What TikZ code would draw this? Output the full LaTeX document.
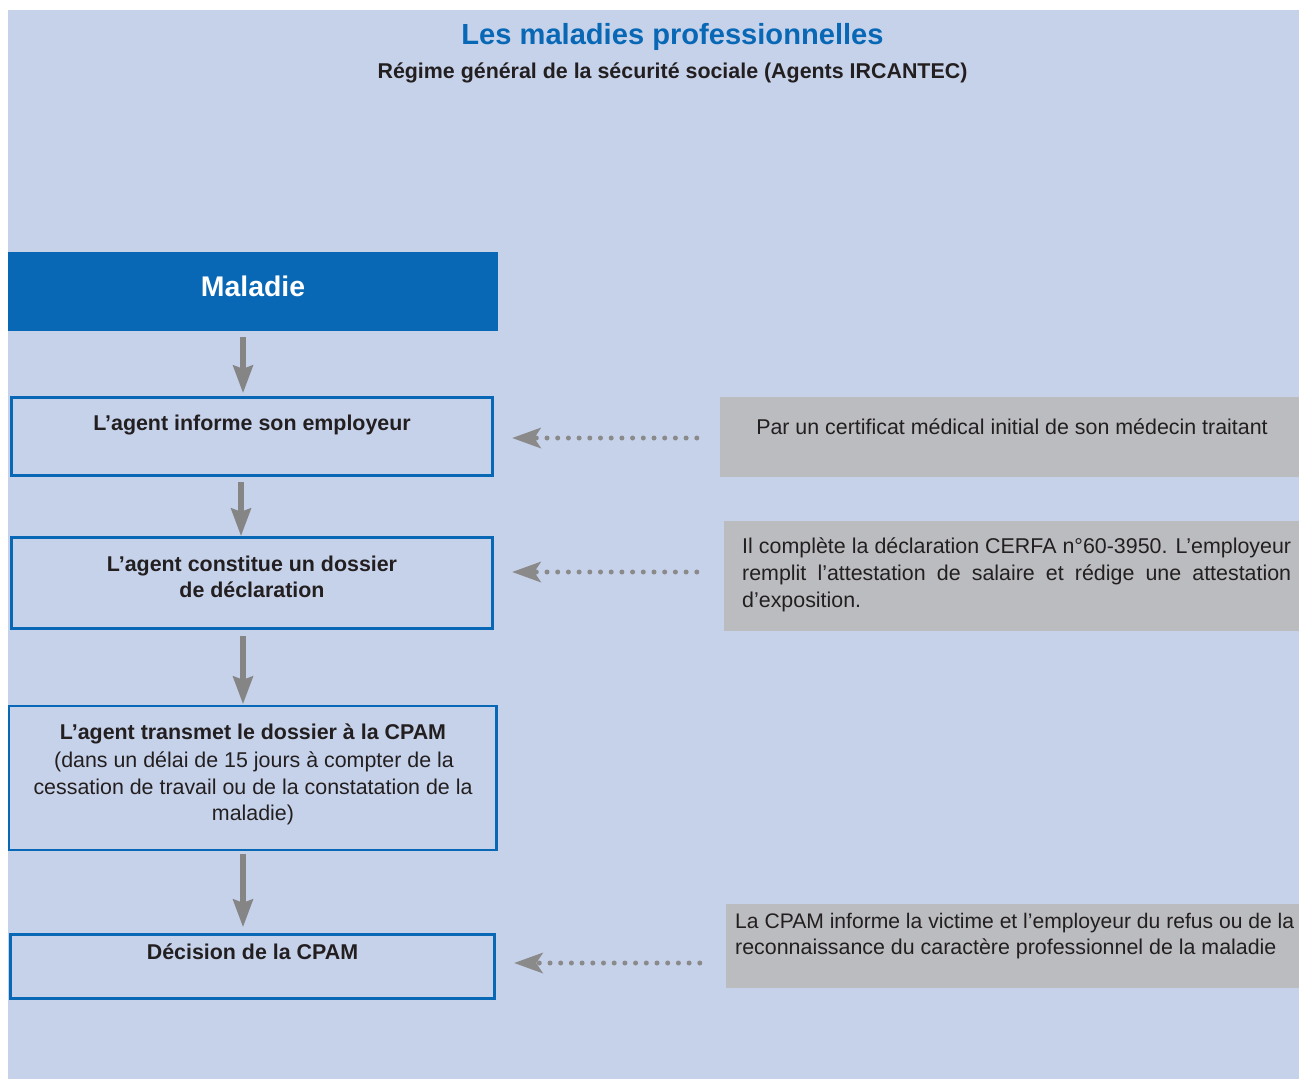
\documentclass[tikz,border=0pt]{standalone}
\usepackage{fontspec}
\setmainfont{Liberation Sans}
\usetikzlibrary{arrows.meta}
\definecolor{bgblue}{HTML}{C6D2EA}
\definecolor{mblue}{HTML}{0868B5}
\definecolor{gbox}{HTML}{BBBCBF}
\definecolor{garrow}{HTML}{858585}
\definecolor{gdot}{HTML}{8A8A8A}
\definecolor{txt}{HTML}{231F20}
\tikzset{
  flowbox/.style={draw=mblue, line width=2.5pt, inner sep=0pt, anchor=center},
  headbox/.style={fill=mblue, inner sep=0pt, anchor=center},
  notebox/.style={fill=gbox, inner sep=0pt, anchor=center},
  btxt/.style={anchor=base, inner sep=0pt, text=txt, font=\fontsize{21.4}{26.5}\selectfont\bfseries},
  rtxt/.style={anchor=base, inner sep=0pt, text=txt, font=\fontsize{21.4}{26.5}\selectfont},
  rtxtw/.style={anchor=base west, inner sep=0pt, text=txt, font=\fontsize{21.4}{26.5}\selectfont},
  varrow/.style={draw=garrow, line width=5.5pt, -{Stealth[length=28pt,width=21pt,inset=4pt,line width=0pt]}},
  darrow/.style={draw=gdot, line width=5pt, line cap=round, dash pattern=on 0pt off 10.7pt,
     -{Stealth[length=29pt,width=21pt,inset=7pt,line width=0pt]}},
}
\begin{document}
\begin{tikzpicture}[x=1pt,y=-1pt]
\useasboundingbox (0,0) rectangle (1299,1079);
\fill[bgblue] (8,10) rectangle (1299,1079);

% titles
\node[anchor=base, inner sep=0pt, text=mblue, font=\fontsize{29.1}{34}\selectfont\bfseries] (title) at (672.5,44) {Les maladies professionnelles};
\node[btxt] (subtitle) at (672.5,78) {Régime général de la sécurité sociale (Agents IRCANTEC)};

% boxes
\node[headbox, minimum width=490pt, minimum height=79pt] (mal) at (253,291.5) {};
\node[anchor=base, inner sep=0pt, text=white, font=\fontsize{28.4}{32}\selectfont\bfseries] (maltxt) at (253,296) {Maladie};

\node[flowbox, minimum width=481pt, minimum height=78pt] (b1) at (252,436.5) {};
\node[btxt] (b1t) at (252,430) {L’agent informe son employeur};

\node[flowbox, minimum width=481pt, minimum height=91pt] (b2) at (252,583) {};
\node[btxt] (b2ta) at (252,571) {L’agent constitue un dossier};
\node[btxt] (b2tb) at (252,597) {de déclaration};

\node[flowbox, minimum width=487.5pt, minimum height=144pt] (b3) at (252.75,778) {};
\node[btxt] (b3ta) at (253,739) {L’agent transmet le dossier à la CPAM};
\node[rtxt] (b3tb) at (254,767) {(dans un délai de 15 jours à compter de la};
\node[rtxt] (b3tc) at (253,794) {cessation de travail ou de la constatation de la};
\node[rtxt] (b3td) at (253,820) {maladie)};

\node[flowbox, minimum width=484pt, minimum height=64pt] (b4) at (252.5,966.5) {};
\node[btxt] (b4t) at (252.5,959) {Décision de la CPAM};

% notes
\node[notebox, minimum width=579pt, minimum height=80pt] (g1) at (1009.5,437) {};
\node[rtxt] (g1t) at (1012,434) {Par un certificat médical initial de son médecin traitant};

\node[notebox, minimum width=575pt, minimum height=110pt] (g2) at (1011.5,576) {};
\node[rtxtw] (g2ta) at (742,553) {\makebox[549pt][s]{Il complète la déclaration CERFA n°60-3950. L’employeur}};
\node[rtxtw] (g2tb) at (742,580) {\makebox[549pt][s]{remplit l’attestation de salaire et rédige une attestation}};
\node[rtxtw] (g2tc) at (742,607) {d’exposition.};

\node[notebox, minimum width=573pt, minimum height=84pt] (g3) at (1012.5,946) {};
\node[rtxtw, font=\fontsize{21.1}{26.5}\selectfont] (g3ta) at (735,928) {La CPAM informe la victime et l’employeur du refus ou de la};
\node[rtxtw] (g3tb) at (735,954) {reconnaissance du caractère professionnel de la maladie};

% vertical arrows
\coordinate (xa) at (243,0);
\coordinate (xb) at (241,0);
\draw[varrow, shorten <=6pt, shorten >=3.5pt] (mal.south -| xa) -- (b1.north -| xa);
\draw[varrow, shorten <=5.5pt, shorten >=0.5pt] (b1.south -| xb) -- (b2.north -| xb);
\draw[varrow, shorten <=6.5pt, shorten >=1pt] (b2.south -| xa) -- (b3.north -| xa);
\draw[varrow, shorten <=3pt, shorten >=6.5pt] (b3.south -| xa) -- (b4.north -| xa);

% dotted arrows
\coordinate (ya) at (0,438);
\coordinate (yb) at (0,572);
\coordinate (yc) at (0,963);
\draw[darrow, shorten <=23pt, shorten >=18.5pt] (g1.west |- ya) -- (b1.east |- ya);
\draw[darrow, shorten <=27pt, shorten >=18.5pt] (g2.west |- yb) -- (b2.east |- yb);
\draw[darrow, shorten <=26pt, shorten >=18.5pt] (g3.west |- yc) -- (b4.east |- yc);
\end{tikzpicture}
\end{document}
